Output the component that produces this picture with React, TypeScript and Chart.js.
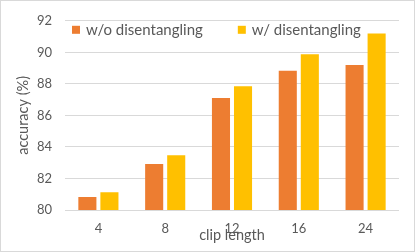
import React, { useEffect, useRef } from "react";
import { Chart, registerables } from "chart.js";

Chart.register(...registerables);

const categories = ["4", "8", "12", "16", "24"];
const withoutDisentangling = [80.82, 82.92, 87.1, 88.83, 89.2];
const withDisentangling = [81.12, 83.48, 87.85, 89.88, 91.2];
const seriesLabels = ["w/o disentangling", "w/ disentangling"];
const seriesColors = ["#ED7D31", "#FFC000"];
const yTitle = "accuracy (%)";
const xTitle = "clip length";

const FONT = "Lato, 'Liberation Sans', sans-serif";
const TEXT = "#595959";

const legendPlugin = {
  id: "insideLegend",
  afterDraw(chart: any) {
    const { ctx, chartArea } = chart;
    ctx.save();
    ctx.font = `15px ${FONT}`;
    ctx.textBaseline = "middle";
    ctx.textAlign = "left";
    let x = chartArea.left + 7;
    const y = chartArea.top + 9;
    chart.data.datasets.forEach((ds: any) => {
      ctx.fillStyle = ds.backgroundColor;
      ctx.fillRect(x, y - 4, 8, 8);
      x += 14;
      ctx.fillStyle = TEXT;
      ctx.fillText(ds.label, x, y);
      x += ctx.measureText(ds.label).width + 35;
    });
    ctx.restore();
  },
};

const borderPlugin = {
  id: "outerBorder",
  afterDraw(chart: any) {
    const { ctx, width, height } = chart;
    ctx.save();
    ctx.strokeStyle = "#D9D9D9";
    ctx.lineWidth = 1;
    ctx.strokeRect(0.5, 0.5, width - 1, height - 1);
    ctx.restore();
  },
};

export default function App() {
  const ref = useRef<HTMLCanvasElement>(null);
  useEffect(() => {
    document.body.style.margin = "0";
    const chart = new Chart(ref.current!, {
      type: "bar",
      data: {
        labels: categories,
        datasets: [
          {
            label: seriesLabels[0],
            data: withoutDisentangling,
            backgroundColor: seriesColors[0],
            categoryPercentage: 0.66,
            barPercentage: 0.82,
          },
          {
            label: seriesLabels[1],
            data: withDisentangling,
            backgroundColor: seriesColors[1],
            categoryPercentage: 0.66,
            barPercentage: 0.82,
          },
        ],
      },
      options: {
        animation: false,
        responsive: false,
        devicePixelRatio: 1,
        layout: { padding: { left: 0, right: 16, top: 13, bottom: 0 } },
        plugins: {
          legend: { display: false },
          tooltip: { enabled: false },
        },
        scales: {
          x: {
            grid: { display: false, drawTicks: false },
            border: { display: false },
            ticks: { color: TEXT, font: { family: FONT, size: 13 }, padding: 11 },
            title: {
              display: true,
              text: xTitle,
              color: TEXT,
              font: { family: FONT, size: 14.5 },
              padding: { top: 0, bottom: 8 },
            },
            afterFit: (s: any) => {
              s.height = 42;
            },
          },
          y: {
            min: 80,
            max: 92,
            ticks: {
              stepSize: 2,
              color: TEXT,
              font: { family: FONT, size: 13 },
              padding: 13,
            },
            grid: { color: "#D9D9D9", drawTicks: false },
            border: { display: false },
            title: {
              display: true,
              text: yTitle,
              color: TEXT,
              font: { family: FONT, size: 14.5 },
              padding: { top: 15, bottom: 0 },
            },
            afterFit: (s: any) => {
              s.width = 65;
            },
          },
        },
      },
      plugins: [legendPlugin, borderPlugin],
    });
    return () => chart.destroy();
  }, []);
  return <canvas ref={ref} width={415} height={252} style={{ display: "block" }} />;
}
